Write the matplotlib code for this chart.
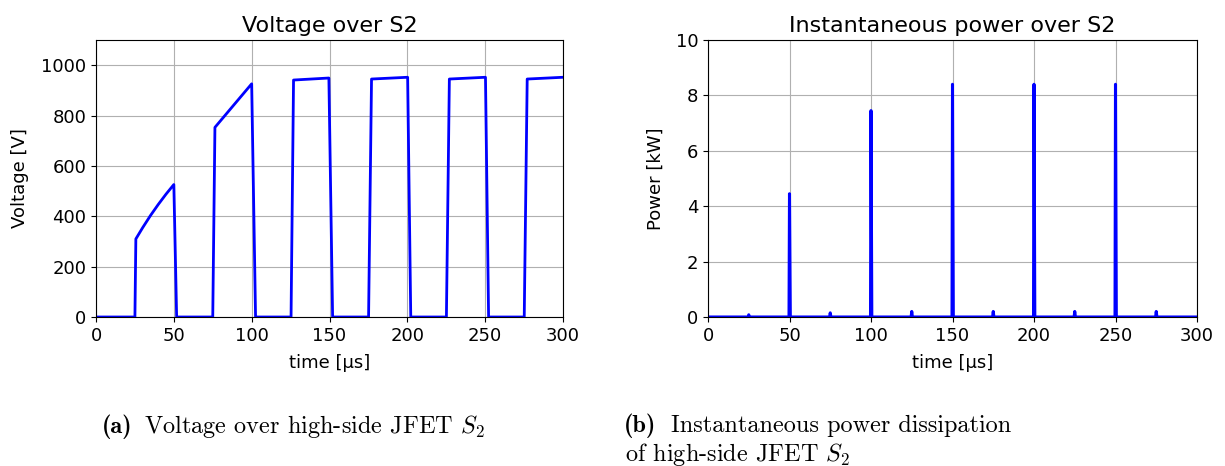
import matplotlib.pyplot as plt

plt.rcParams['mathtext.fontset'] = 'cm'
plt.rcParams['font.size'] = 13

# Voltage over S2 [V] vs time [us]
t_v = [0, 25.0, 25.6, 30, 35, 40, 45, 50.0, 51.8,
       75.0, 76.4, 100.0, 102.5,
       125.3, 126.9, 149.6, 152.0,
       175.1, 177.0, 200.2, 202.2,
       225.1, 227.0, 250.2, 252.2,
       275.1, 277.0, 300]
v_s2 = [0, 0, 310, 355, 403, 447, 488, 526, 0,
        0, 753, 926, 0,
        0, 941, 949, 0,
        0, 945, 952, 0,
        0, 945, 952, 0,
        0, 945, 952]

# Instantaneous power over S2 [kW] vs time [us]
t_p = [0, 24.6, 25.0, 25.4, 49.7, 50.0, 50.5,
       74.6, 75.0, 75.4, 99.7, 100.0, 100.5,
       124.6, 125.0, 125.4, 149.7, 150.0, 150.5,
       174.6, 175.0, 175.4, 199.7, 200.0, 200.5,
       224.6, 225.0, 225.4, 249.7, 250.0, 250.5,
       274.6, 275.0, 275.4, 300]
p_s2 = [0, 0, 0.08, 0, 0, 4.45, 0,
        0, 0.15, 0, 0, 7.45, 0,
        0, 0.2, 0, 0, 8.4, 0,
        0, 0.2, 0, 0, 8.4, 0,
        0, 0.2, 0, 0, 8.4, 0,
        0, 0.2, 0, 0]

W, H = 1225, 466
fig = plt.figure(figsize=(W / 100, H / 100), dpi=100)

def px_axes(x0, x1, y0, y1):
    return fig.add_axes([x0 / W, 1 - y1 / H, (x1 - x0) / W, (y1 - y0) / H])

ax1 = px_axes(96, 563, 40, 317)
ax2 = px_axes(708, 1197, 40, 317)

ax1.plot(t_v, v_s2, color='blue', lw=2)
ax1.set_xlim(0, 300)
ax1.set_ylim(0, 1100)
ax1.set_xticks(range(0, 301, 50))
ax1.set_yticks(range(0, 1001, 200))
ax1.set_title('Voltage over S2', fontsize=16)
ax1.set_xlabel('time [µs]', labelpad=7)
ax1.set_ylabel('Voltage [V]', labelpad=9)
ax1.grid(True)

ax2.plot(t_p, p_s2, color='blue', lw=2.2)
ax2.set_xlim(0, 300)
ax2.set_ylim(0, 10)
ax2.set_xticks(range(0, 301, 50))
ax2.set_yticks(range(0, 11, 2))
ax2.set_title('Instantaneous power over S2', fontsize=16)
ax2.set_xlabel('time [µs]', labelpad=7)
ax2.set_ylabel('Power [kW]', labelpad=8)
ax2.grid(True)

# captions
cap = dict(fontsize=17.5, va='baseline')
fig.text(102 / W, 1 - 433 / H, '(a)', family='cmb10', **cap)
fig.text(144 / W, 1 - 433 / H, r'Voltage over high-side JFET $S_2$', family='cmr10', **cap)
fig.text(624 / W, 1 - 432 / H, '(b)', family='cmb10', **cap)
fig.text(671 / W, 1 - 432 / H, 'Instantaneous power dissipation', family='cmr10', **cap)
fig.text(625 / W, 1 - 461 / H, r'of high-side JFET $S_2$', family='cmr10', **cap)

fig.savefig('out.png', dpi=100)
